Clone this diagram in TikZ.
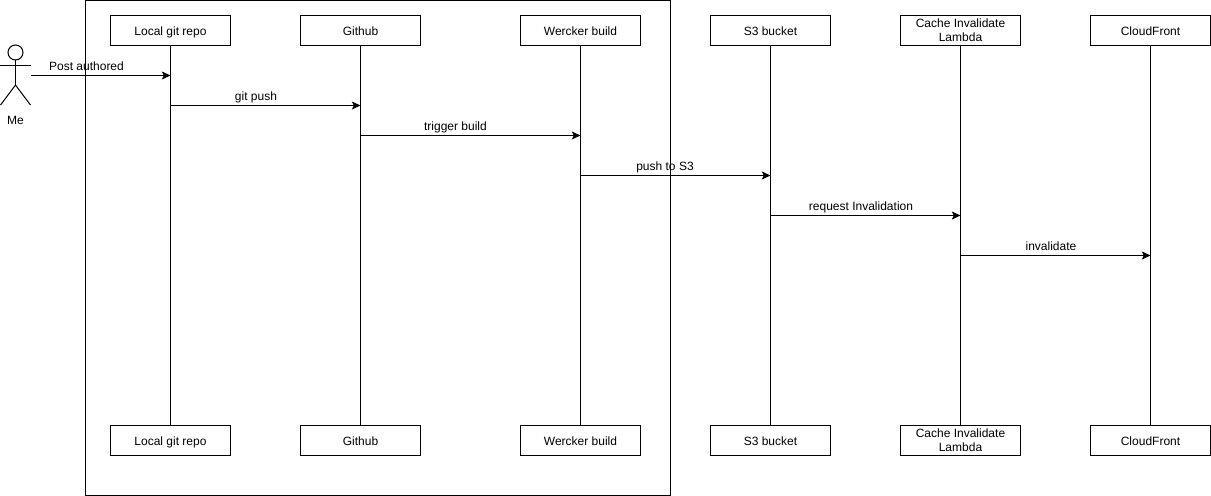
\documentclass[tikz,border=0pt]{standalone}
\usepackage{fontspec}
\setmainfont{Liberation Sans}
\usetikzlibrary{arrows.meta}
\tikzset{
  every node/.style={font=\fontsize{9}{10.5}\selectfont, inner sep=0pt},
  lifetext/.style={text height=9pt, text depth=2pt},
  lifeframe/.style={draw=black, fill=white, line width=0.75pt, minimum width=90pt, minimum height=22.5pt, align=center},
  lifebox/.style={lifeframe, lifetext},
  lifeboxtall/.style={lifeframe, execute at begin node=\rule{0pt}{9pt}},
  msg/.style={draw=black, line width=0.75pt, -{Stealth[length=6.5pt,width=6pt,inset=1.5pt]}},
  life/.style={draw=black, line width=0.75pt},
}
\begin{document}
\begin{tikzpicture}[x=0.75pt,y=-0.75pt]
\useasboundingbox (0,0) rectangle (1211,496);
\fill [white] (0,0) rectangle (1211,496);
\draw [black, line width=0.75pt] (85.5,0.5) rectangle (670,495);
% lifelines
\node [lifebox] (repo) at (170.5,30.5) {Local git repo};
\node [lifebox] (github) at (360.5,30.5) {Github};
\node [lifebox] (wercker) at (580.5,30.5) {Wercker build};
\node [lifebox] (s3) at (770.5,30.5) {S3 bucket};
\node [lifeboxtall] (lambda) at (960.5,30.5) {Cache Invalidate\\Lambda};
\node [lifebox] (cloudfront) at (1150.5,30.5) {CloudFront};
\node [lifebox] (repob) at (170.5,440.5) {Local git repo};
\node [lifebox] (githubb) at (360.5,440.5) {Github};
\node [lifebox] (werckerb) at (580.5,440.5) {Wercker build};
\node [lifebox] (s3b) at (770.5,440.5) {S3 bucket};
\node [lifeboxtall] (lambdab) at (960.5,440.5) {Cache Invalidate\\Lambda};
\node [lifebox] (cloudfrontb) at (1150.5,440.5) {CloudFront};
\draw [life] (repo) -- (repob);
\draw [life] (github) -- (githubb);
\draw [life] (wercker) -- (werckerb);
\draw [life] (s3) -- (s3b);
\draw [life] (lambda) -- (lambdab);
\draw [life] (cloudfront) -- (cloudfrontb);
% actor
\draw [black, line width=0.75pt] (15.5,52.5) circle (7.5);
\draw [black, line width=0.75pt] (15.5,60) -- (15.5,85);
\draw [black, line width=0.75pt] (0.5,65.5) -- (30.5,65.5);
\draw [black, line width=0.75pt] (0.5,105) -- (15.5,85) -- (30.5,105);
\node [lifetext] (me) at (15.5,119.7) {Me};
% messages
\coordinate (hand) at (30.5,75.5);
\coordinate (repoin) at (170.5,75.5);
\coordinate (repoout) at (170.5,105.5);
\coordinate (githubin) at (360.5,105.5);
\coordinate (githubout) at (360.5,135.5);
\coordinate (werckerin) at (580.5,135.5);
\coordinate (werckerout) at (580.5,175.5);
\coordinate (s3in) at (770.5,175.5);
\coordinate (s3out) at (770.5,215.5);
\coordinate (lambdain) at (960.5,215.5);
\coordinate (lambdaout) at (960.5,255.5);
\coordinate (cloudfrontin) at (1150.5,255.5);
\draw [msg] (hand) -- (repoin);
\draw [msg] (repoout) -- (githubin);
\draw [msg] (githubout) -- (werckerin);
\draw [msg] (werckerout) -- (s3in);
\draw [msg] (s3out) -- (lambdain);
\draw [msg] (lambdaout) -- (cloudfrontin);
\node [lifetext] (authored) at (86.5,66) {Post authored};
\node [lifetext] (push) at (256,96) {git push};
\node [lifetext] (trigger) at (455.5,126) {trigger build};
\node [lifetext] (pushs3) at (665,166) {push to S3};
\node [lifetext] (request) at (861,206) {request Invalidation};
\node [lifetext] (invalidate) at (1051,246) {invalidate};
\end{tikzpicture}
\end{document}
